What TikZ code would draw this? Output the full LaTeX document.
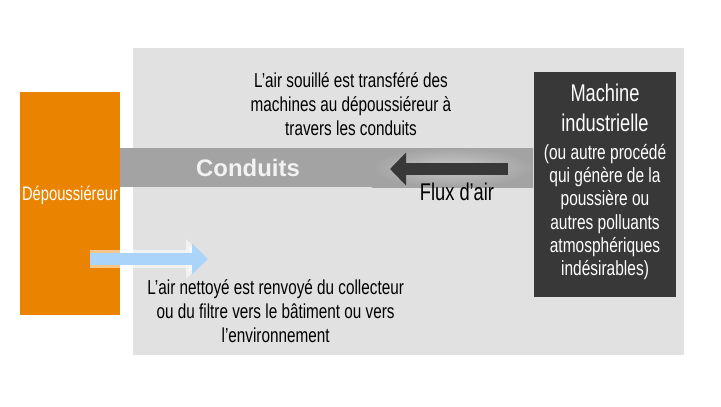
\documentclass[tikz,border=0pt]{standalone}
\usepackage{fontspec}
\setmainfont{Liberation Sans}
\newfontfamily\narrowfont[FakeStretch=0.755]{Liberation Sans}
\usetikzlibrary{arrows.meta}
\definecolor{dustorange}{HTML}{E98300}
\definecolor{bggray}{HTML}{E1E1E1}
\definecolor{ductgray}{HTML}{A3A3A3}
\definecolor{ductlight}{HTML}{C8C8C8}
\definecolor{machinegray}{HTML}{383838}
\definecolor{cleanblue}{HTML}{ABD4FA}

\begin{document}
\begin{tikzpicture}
	[note/.style={align=center, font=\narrowfont\fontsize{14.4}{17}\selectfont},
	 whitenote/.style={note, text=white}];

	\useasboundingbox (0,0) rectangle (18.025,10.15);

	%Boxes
	\fill[bggray] (3.325,1.275) rectangle (17.1,8.95);
	\fill[dustorange] (0.5,2.275) rectangle (3.0,7.85);
	\fill[ductgray] (3.0,5.475) rectangle (13.325,6.45);
	\shade[inner color=ductlight, outer color=ductgray] (9.3,5.475) rectangle (13.325,6.45);
	\fill[machinegray] (13.35,2.725) rectangle (16.9,8.35);

	%Arrows
	\coordinate (dirtyStart) at (12.7,5.925);
	\coordinate (dirtyEnd) at (9.75,5.925);
	\draw[machinegray, line width=0.3cm, -{Triangle[length=4mm,width=8mm]}] (dirtyStart) -- (dirtyEnd);

	\coordinate (cleanStart) at (2.25,3.675);
	\coordinate (cleanEnd) at (5.2,3.675);
	\draw[white, opacity=0.55, line width=0.45cm, -{Triangle[length=5.5mm,width=9.5mm]}] (cleanStart) -- (cleanEnd);
	\draw[cleanblue, line width=0.3cm, -{Triangle[length=4mm,width=7.5mm]}] (cleanStart) -- (cleanEnd);

	%Labels
	\node[note] (dirtyText) at (8.775,7.55) {L’air souillé est transféré des\\machines au dépoussiéreur à\\travers les conduits};
	\node[note] (cleanText) at (6.89,2.375) {L’air nettoyé est renvoyé du collecteur\\ou du filtre vers le bâtiment ou vers\\l’environnement};
	\node[font=\bfseries\fontsize{17}{20}\selectfont, text=white!95!black] (ductLabel) at (6.2,5.96) {Conduits};
	\node[whitenote, font=\narrowfont\fontsize{13.9}{16}\selectfont, inner sep=0pt] (dustLabel) at (1.75,5.275) {Dépoussiéreur};
	\node[note, font=\narrowfont\fontsize{17.2}{20}\selectfont] (fluxLabel) at (11.425,5.36) {Flux d’air};
	\node[whitenote, font=\narrowfont\fontsize{17.2}{21.3}\selectfont] (machineTitle) at (15.125,7.45) {Machine\\industrielle};
	\node[whitenote, font=\narrowfont\fontsize{14.6}{16.5}\selectfont] (machineText) at (15.125,4.85) {(ou autre procédé\\qui génère de la\\poussière ou\\autres polluants\\atmosphériques\\indésirables)};
\end{tikzpicture}
\end{document}
